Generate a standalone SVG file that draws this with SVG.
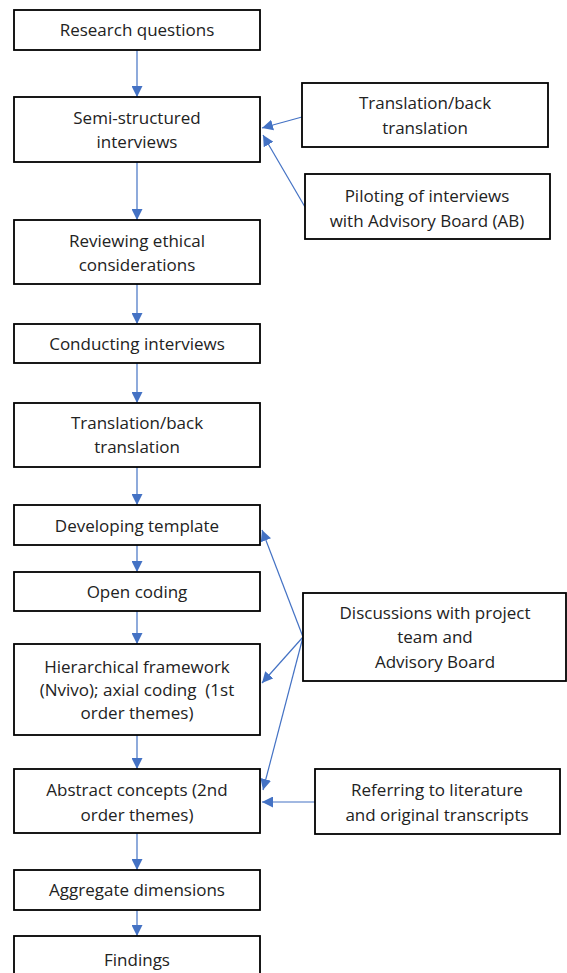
<svg xmlns="http://www.w3.org/2000/svg" width="567" height="973" viewBox="0 0 567 973">
<style>
rect{fill:#fff;stroke:#000;stroke-width:1.8}
text{font-family:"Open Sans","Liberation Sans",sans-serif;font-size:17px;fill:#222;text-anchor:middle;white-space:pre}
.c line{stroke:#4472C4;stroke-width:1.2;marker-end:url(#ah)}
</style>
<defs>
<marker id="ah" markerUnits="userSpaceOnUse" markerWidth="12" markerHeight="11" refX="11" refY="5.5" orient="auto">
<path d="M0,0 L11,5.5 L0,11 Z" fill="#4472C4"/>
</marker>
</defs>
<rect x="0" y="0" width="567" height="973" style="fill:#fff;stroke:none"/>
<g class="c" id="connectors">
<line x1="137" y1="50" x2="137" y2="97"/>
<line x1="137" y1="162" x2="137" y2="220"/>
<line x1="137" y1="284" x2="137" y2="324"/>
<line x1="137" y1="363" x2="137" y2="403"/>
<line x1="137" y1="467" x2="137" y2="505"/>
<line x1="137" y1="545" x2="137" y2="572"/>
<line x1="137" y1="611" x2="137" y2="644"/>
<line x1="137" y1="735" x2="137" y2="769"/>
<line x1="137" y1="833" x2="137" y2="870"/>
<line x1="137" y1="910" x2="137" y2="936"/>
<line x1="302" y1="117" x2="262" y2="128"/>
<line x1="305" y1="207" x2="263" y2="135"/>
<line x1="303" y1="637" x2="262" y2="530"/>
<line x1="303" y1="637" x2="262" y2="683"/>
<line x1="303" y1="637" x2="263" y2="790"/>
<line x1="315" y1="802" x2="262" y2="802"/>
</g>
<g id="n1"><rect x="14" y="10" width="246" height="40"/><text x="137" y="36">Research questions</text></g>
<g id="n2"><rect x="14" y="97" width="246" height="65"/><text x="137" y="124">Semi-structured</text><text x="137" y="148">interviews</text></g>
<g id="n3"><rect x="14" y="220" width="246" height="64"/><text x="137" y="247">Reviewing ethical</text><text x="137" y="271">considerations</text></g>
<g id="n4"><rect x="14" y="324" width="246" height="39"/><text x="137" y="350">Conducting interviews</text></g>
<g id="n5"><rect x="14" y="403" width="246" height="64"/><text x="137" y="429">Translation/back</text><text x="137" y="453">translation</text></g>
<g id="n6"><rect x="14" y="505" width="246" height="40"/><text x="137" y="532">Developing template</text></g>
<g id="n7"><rect x="14" y="572" width="246" height="39"/><text x="137" y="598">Open coding</text></g>
<g id="n8"><rect x="14" y="644" width="246" height="91"/><text x="137" y="673">Hierarchical framework</text><text x="137" y="696">(Nvivo); axial coding  (1st</text><text x="137" y="719">order themes)</text></g>
<g id="n9"><rect x="14" y="769" width="246" height="64"/><text x="137" y="796">Abstract concepts (2nd</text><text x="137" y="821">order themes)</text></g>
<g id="n10"><rect x="14" y="870" width="246" height="40"/><text x="137" y="896">Aggregate dimensions</text></g>
<g id="n11"><rect x="14" y="936" width="246" height="50"/><text x="137" y="966">Findings</text></g>
<g id="r1"><rect x="302" y="83" width="246" height="64"/><text x="425" y="109">Translation/back</text><text x="425" y="134">translation</text></g>
<g id="r2"><rect x="305" y="174" width="245" height="65"/><text x="427" y="202">Piloting of interviews</text><text x="427" y="227">with Advisory Board (AB)</text></g>
<g id="r3"><rect x="303" y="593" width="263" height="88"/><text x="435" y="619">Discussions with project</text><text x="435" y="643">team and</text><text x="435" y="668">Advisory Board</text></g>
<g id="r4"><rect x="315" y="769" width="245" height="65"/><text x="437" y="796">Referring to literature</text><text x="437" y="821">and original transcripts</text></g>
</svg>
